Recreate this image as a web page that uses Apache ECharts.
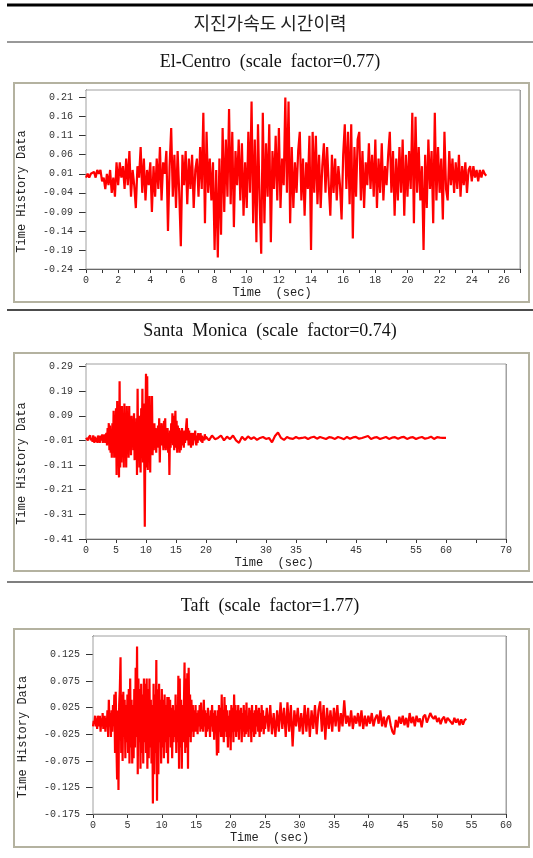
<!DOCTYPE html>
<html>
<head>
<meta charset="utf-8">
<script src="https://cdn.jsdelivr.net/npm/echarts@6/dist/echarts.min.js"></script>
<style>
html,body{margin:0;padding:0;background:#fff;}
#main{width:533px;height:858px;}
</style>
</head>
<body>
<div id="main"></div>
<script>
// ---------- text ----------
const pageTitle = '지진가속도 시간이력';
const panelTitles = ['El-Centro  (scale  factor=0.77)', 'Santa  Monica  (scale  factor=0.74)', 'Taft  (scale  factor=1.77)'];
const yAxisName = 'Time History Data';
const xAxisName = 'Time  (sec)';

// ---------- El-Centro (start 0 s, step 0.1 s) ----------
const elCentroStart = 0, elCentroStep = 0.1;
const elCentroAcc = [
 0.00,0.01,0.00,0.01,0.005,0.015,0.00,0.02,0.01,0.02,
 -0.01,0.00,-0.03,0.01,-0.02,0.02,-0.04,0.00,-0.05,0.04,
 -0.02,0.04,0.00,0.03,-0.03,0.05,-0.02,0.07,-0.05,0.02,
 -0.02,-0.08,0.03,0.00,0.08,-0.04,0.05,-0.06,0.02,-0.02,
 0.04,-0.09,0.03,-0.05,0.05,-0.03,0.08,-0.06,0.04,0.01,
 0.07,-0.14,0.03,0.13,-0.05,0.06,-0.08,0.07,-0.04,-0.18,
 0.06,-0.02,0.07,-0.07,0.05,-0.03,0.06,-0.08,0.02,0.05,
 -0.05,0.08,-0.03,0.17,-0.12,0.12,-0.04,0.05,-0.06,0.04,
 -0.19,0.02,-0.21,0.05,-0.15,0.13,-0.09,0.10,-0.05,0.18,
 -0.07,0.12,-0.13,0.07,-0.02,0.10,-0.06,0.09,-0.10,0.04,
 -0.08,0.12,-0.04,0.20,-0.12,0.10,-0.17,0.14,-0.06,-0.20,
 0.17,-0.12,0.09,-0.05,0.14,-0.17,0.07,-0.03,0.11,-0.06,
 0.13,-0.08,0.05,-0.02,0.21,-0.04,0.20,-0.12,0.08,-0.08,
 0.04,-0.04,0.07,0.12,-0.06,0.05,-0.10,0.04,-0.03,0.11,
 -0.19,0.12,-0.04,0.11,-0.07,0.06,-0.08,0.03,0.09,-0.04,
 0.08,-0.02,-0.10,0.06,-0.04,0.05,-0.06,0.03,-0.02,-0.11,
 0.06,0.14,-0.03,0.12,-0.07,0.14,-0.16,0.08,-0.05,0.10,
 0.12,-0.06,0.07,-0.08,0.04,-0.02,0.09,-0.03,0.06,-0.05,
 0.10,-0.08,0.05,-0.04,0.09,-0.06,0.03,-0.02,0.06,0.12,
 -0.04,0.07,-0.10,0.05,-0.06,0.08,-0.04,0.10,-0.10,0.06,
 -0.05,0.07,-0.03,0.17,-0.12,0.16,-0.04,0.08,-0.06,0.03,
 -0.19,0.06,-0.08,0.10,-0.03,0.07,-0.12,0.17,-0.06,0.08,
 -0.04,0.05,-0.11,0.12,-0.03,-0.06,0.07,-0.02,0.05,-0.04,
 0.04,-0.03,0.06,-0.05,0.03,-0.02,0.04,-0.04,0.02,0.03,
 -0.01,0.03,0.00,0.02,-0.01,0.02,0.00,0.02,0.01,0.005
];

// ---------- Santa Monica ----------
const smStartA = 0, smStepA = 0.1;
const smAccA = [
 0.00,-0.005,0.005,-0.01,0.00,0.005,-0.005,0.01,-0.01,0.00,
 0.005,-0.015,0.01,-0.005,-0.02,0.005,0.01,-0.015,0.00,-0.02,
 0.01,-0.015,0.005,-0.02,0.01,0.00,-0.01,0.015,-0.02,0.005,
 -0.01,0.015,-0.02,0.01,0.02,-0.03,0.04,-0.02,0.06,-0.05,
 0.05,-0.06,0.03,-0.08,0.06,-0.04,0.11,-0.08,0.09,-0.03,
 0.12,-0.15,0.15,-0.10,0.08,-0.16,0.23,-0.12,0.06,-0.10,
 0.13,-0.06,0.07,-0.12,0.14,-0.05,0.10,-0.12,0.13,-0.04,
 0.08,-0.08,0.13,-0.03,0.05,-0.07,0.09,-0.02,0.06,-0.05,
 0.10,-0.09,0.04,-0.06,0.08,-0.15,0.20,-0.08,0.07,-0.12,
 0.09,-0.14,0.12,-0.05,0.20,-0.10,0.14,-0.08,-0.36,0.05,
 0.26,-0.12,0.25,-0.13,0.10,-0.06,0.17,-0.14,0.12,-0.04,
 0.17,-0.07,0.05,-0.05,0.06,-0.03,0.04,-0.06,0.03,-0.02,
 0.05,-0.04,0.08,-0.10,0.04,-0.02,0.06,-0.03,0.02,-0.05,
 0.07,-0.04,0.08,-0.05,0.03,-0.02,0.04,-0.06,0.02,-0.15,
 0.03,-0.04,0.06,-0.02,0.10,-0.03,0.09,-0.05,0.04,0.11,
 -0.04,0.07,-0.06,0.05,-0.02,0.04,-0.06,0.03,-0.05,0.02,
 0.04,-0.03,0.02,-0.04,0.03,-0.02,0.01,0.05,0.08,-0.01,
 0.04,-0.03,0.03,-0.02,0.02,-0.04,0.01,0.02,-0.03,0.01,
 0.02,-0.01,0.03,-0.02,-0.03,0.01,-0.02,0.02,-0.01,0.015,
 -0.01,0.02,-0.015,0.01,-0.02,0.005,0.01,-0.01,0.015,-0.005
];
const smStartB = 20, smStepB = 0.5;
const smAccB = [
 0.005,-0.01,0.01,-0.005,0.00,0.01,-0.01,0.005,-0.005,0.01,
 -0.01,-0.02,0.005,-0.008,0.006,-0.004,0.003,-0.008,0.00,0.004,
 -0.004,0.00,-0.018,0.008,0.022,0.00,-0.008,0.004,-0.002,-0.004,
 0.004,-0.002,0.00,0.003,-0.004,0.002,0.005,-0.003,0.004,0.00,
 -0.004,0.003,0.001,-0.004,0.004,0.00,-0.005,0.004,-0.003,0.002,
 0.004,-0.003,0.00,0.004,0.008,-0.004,0.001,0.003,-0.004,0.00,
 0.004,-0.004,0.001,0.003,-0.003,0.002,0.004,-0.004,0.001,0.003,
 -0.004,0.001,0.004,-0.003,0.00,0.005,-0.004,0.003,0.001,0.00,
 0.00
];

// ---------- Taft ----------
const taftStartA = 0, taftStepA = 0.1;
const taftAccA = [
 -0.01,0.00,-0.005,0.01,-0.01,0.005,-0.015,0.01,0.00,-0.01,
 0.01,-0.02,0.005,-0.01,0.015,-0.015,0.00,0.01,-0.02,0.005,
 -0.01,0.02,-0.03,0.04,-0.01,0.015,-0.03,0.02,-0.02,0.03,
 -0.01,0.05,-0.06,0.055,-0.04,-0.11,0.02,-0.13,0.03,0.06,
 0.12,-0.06,0.05,-0.075,0.055,-0.03,0.04,-0.07,0.03,-0.04,
 0.05,-0.06,0.06,-0.08,0.08,-0.05,0.04,-0.08,0.03,-0.07,
 0.06,-0.05,0.10,-0.03,0.14,-0.10,0.08,-0.04,0.06,-0.09,
 0.07,-0.06,0.05,-0.08,0.08,-0.04,0.07,-0.06,0.08,-0.09,
 0.06,-0.07,0.08,-0.05,0.04,-0.08,0.03,-0.155,0.07,-0.10,
 0.05,-0.06,0.115,-0.15,0.06,-0.10,0.07,-0.04,0.04,-0.08,
 0.06,-0.05,0.04,-0.07,0.05,-0.04,0.03,-0.06,0.045,-0.08,
 0.045,-0.03,0.04,-0.05,0.025,-0.07,0.03,-0.04,0.02,-0.03,
 0.05,-0.06,0.03,-0.04,0.085,-0.09,0.08,-0.05,0.04,-0.09,
 0.03,-0.04,0.02,0.11,-0.06,0.08,-0.05,0.09,-0.09,0.10,
 -0.03,0.05,-0.04,0.04,-0.02,0.03,-0.03,0.02,-0.02,0.03,
 -0.02,0.015,-0.025,0.02,-0.01,0.03,-0.02,0.035,-0.015,0.02,
 -0.02,0.04,-0.01,0.02,-0.03,0.015,-0.02,0.025,-0.015,0.01,
 -0.03,0.02,-0.01,0.03,-0.02,0.015,-0.035,0.02,-0.02,0.01,
 -0.065,0.02,-0.06,0.03,-0.02,0.025,-0.03,0.05,-0.03,0.02,
 -0.04,0.045,-0.02,0.03,-0.03,0.02,-0.05,0.01,-0.03,0.02,
 -0.055,0.03,-0.02,0.025,-0.04,0.05,-0.02,0.03,-0.03,0.02,
 -0.02,0.03,-0.035,0.02,-0.01,0.025,-0.04,0.015,-0.02,0.03,
 -0.03,0.02,-0.025,0.035,-0.02,0.01,-0.03,0.025,-0.015,0.02,
 -0.04,0.03,-0.02,0.015,-0.03,0.02,-0.025,0.03,-0.01,0.02,
 -0.02,0.025,-0.03,0.015,-0.02,0.03,-0.015,0.02,-0.025,0.01
];
const taftStartB = 25, taftStepB = 0.25;
const taftAccB = [
 -0.015,0.025,-0.02,0.03,-0.025,0.015,-0.03,0.02,
 -0.02,0.035,-0.015,0.025,-0.03,0.035,-0.02,0.03,
 -0.048,0.02,-0.01,0.025,-0.02,0.015,-0.025,0.03,
 -0.02,0.025,-0.03,0.02,-0.015,0.03,-0.025,0.02,
 0.037,-0.02,0.03,-0.035,0.025,-0.015,0.02,-0.02,
 0.025,-0.01,0.03,-0.02,0.015,-0.01,0.039,-0.005,
 0.01,-0.01,0.02,-0.015,0.01,-0.005,0.015,-0.01,
 0.02,-0.015,0.01,-0.01
];
const taftStartC = 40, taftStepC = 0.25;
const taftAccC = [
 0.01,-0.005,0.015,-0.01,0.005,0.012,-0.005,0.02,-0.01,0.008,
 -0.012,0.005,0.01,-0.008,-0.02,-0.025,0.002,-0.012,0.008,-0.005,
 0.01,-0.008,0.006,-0.012,0.015,-0.004,0.008,-0.01,0.01,-0.002,
 0.005,-0.012,0.008,0.012,-0.003,0.006,0.015,0.008,0.004,0.010,
 -0.002,0.006,-0.006,0.004,0.008,-0.004,0.006,0.002,0.000,-0.006,
 0.006,-0.003,0.004,-0.008,0.003,-0.007,0.002,0.004
];

// ---------- axis ranges / labels ----------
const yRanges = [[-0.24, 0.23, 0.05, 2], [-0.41, 0.30, 0.1, 2], [-0.175, 0.16, 0.05, 3]];
const xRanges = [[0, 27, 1], [0, 70, 5], [0, 60, 5]];
const xLabelEvery = [2, 5, 5];
const xHiddenLabels = [[], [25, 40, 50, 65], []];

function toPairs(start, step, arr) {
  return arr.map((v, i) => [+(start + i * step).toFixed(3), v]);
}
const elData = toPairs(elCentroStart, elCentroStep, elCentroAcc);
const smData = toPairs(smStartA, smStepA, smAccA).concat(toPairs(smStartB, smStepB, smAccB));
const taftData = toPairs(taftStartA, taftStepA, taftAccA)
  .concat(toPairs(taftStartB, taftStepB, taftAccB))
  .concat(toPairs(taftStartC, taftStepC, taftAccC));
const seriesData = [elData, smData, taftData];

// ---------- layout ----------
const grids = [
  {left: 86, top: 90, width: 434, height: 179},
  {left: 86, top: 364, width: 420, height: 175},
  {left: 93, top: 636, width: 413, height: 178}
];
const yNameGap = [58, 58, 64];
const xNameShift = [62, 44, 60];
const topLineColor = ['#777', '#222', '#222'];
const frames = [[14, 83, 515, 219], [14, 353, 515, 218], [14, 629, 515, 218]];
const titleY = [62, 331, 606];

const mono = '"Liberation Mono", "DejaVu Sans Mono", monospace';
const chart = echarts.init(document.getElementById('main'));

const option = {
  animation: false,
  backgroundColor: '#fff',
  grid: grids.map(g => Object.assign({show: true, borderColor: '#a0a0a0', borderWidth: 1, backgroundColor: '#fff', z: 1}, g)),
  xAxis: [],
  yAxis: [],
  series: [],
  graphic: []
};

for (let i = 0; i < 3; i++) {
  const [xmin, xmax, xint] = xRanges[i];
  option.xAxis.push({
    type: 'value', gridIndex: i, min: xmin, max: xmax, interval: xint,
    name: xAxisName, nameLocation: 'middle', nameGap: 18,
    nameTextStyle: {fontFamily: mono, fontSize: 12, color: '#222', padding: [0, xNameShift[i], 0, 0]},
    axisLine: {show: true, onZero: false, lineStyle: {color: '#333', width: 1}},
    axisTick: {show: true, length: 4, lineStyle: {color: '#333'}},
    axisLabel: {
      fontFamily: mono, fontSize: 10, color: '#333', margin: 6,
      formatter: v => {
        const r = Math.round(v);
        if (r % xLabelEvery[i] !== 0) return '';
        if (xHiddenLabels[i].indexOf(r) >= 0) return '';
        return String(r);
      }
    },
    splitLine: {show: true, lineStyle: {color: '#a4a4a4', width: 1}}
  });
  // top border line
  option.xAxis.push({
    type: 'value', gridIndex: i, min: xmin, max: xmax, position: 'top',
    axisLine: {show: true, onZero: false, lineStyle: {color: topLineColor[i], width: 1}},
    axisTick: {show: false}, axisLabel: {show: false}, splitLine: {show: false}
  });
  const [ymin, ymax, yint, dec] = yRanges[i];
  option.yAxis.push({
    type: 'value', gridIndex: i, min: ymin, max: ymax, interval: yint,
    name: yAxisName, nameLocation: 'middle', nameGap: yNameGap[i], nameRotate: 90,
    nameTextStyle: {fontFamily: mono, fontSize: 12, color: '#222', padding: [0, 24, 0, 0]},
    axisLine: {show: true, onZero: false, lineStyle: {color: '#333', width: 1}},
    axisTick: {show: true, length: 7, lineStyle: {color: '#333'}},
    axisLabel: {fontFamily: mono, fontSize: 10, color: '#333', margin: 13, showMaxLabel: false,
      formatter: v => v.toFixed(dec)},
    splitLine: {show: true, lineStyle: {color: '#a4a4a4', width: 1}}
  });
  option.series.push({
    type: 'line', xAxisIndex: i * 2, yAxisIndex: i, data: seriesData[i],
    showSymbol: false, symbol: 'none',
    lineStyle: {color: '#ff0000', width: 2.2, join: 'bevel'},
    z: 5
  });
  const f = frames[i];
  option.graphic.push({
    type: 'rect', shape: {x: f[0], y: f[1], width: f[2], height: f[3]},
    style: {fill: 'none', stroke: '#b4b2a0', lineWidth: 2}, z: 0
  });
  option.graphic.push({
    type: 'text', x: 270, y: titleY[i],
    style: {text: panelTitles[i], font: '18px "Liberation Serif", "Times New Roman", serif', fill: '#111', align: 'center', verticalAlign: 'middle'}
  });
}

option.graphic.push(
  {type: 'line', shape: {x1: 7, y1: 5, x2: 533, y2: 5}, style: {stroke: '#000', lineWidth: 3}},
  {type: 'line', shape: {x1: 7, y1: 42, x2: 533, y2: 42}, style: {stroke: '#333', lineWidth: 1}},
  {type: 'line', shape: {x1: 7, y1: 310, x2: 533, y2: 310}, style: {stroke: '#111', lineWidth: 1.5}},
  {type: 'line', shape: {x1: 7, y1: 582, x2: 533, y2: 582}, style: {stroke: '#555', lineWidth: 1.5}},
  {type: 'text', x: 270, y: 23,
   style: {text: pageTitle, font: '18px "Noto Sans CJK KR", sans-serif', fill: '#222', align: 'center', verticalAlign: 'middle'}}
);

chart.setOption(option);
</script>
</body>
</html>
